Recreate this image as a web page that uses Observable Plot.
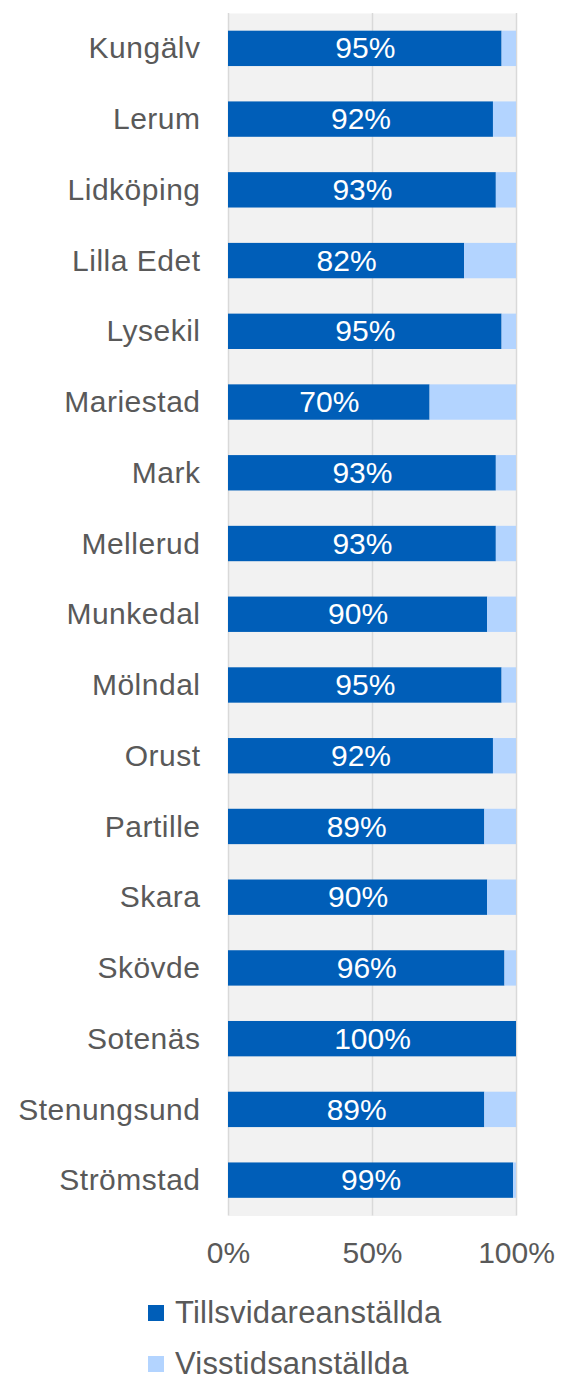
<!DOCTYPE html>
<html>
<head>
<meta charset="utf-8">
<script src="https://cdn.jsdelivr.net/npm/d3@7"></script>
<script src="https://cdn.jsdelivr.net/npm/@observablehq/plot@0.6"></script>
<style>
  body { margin: 0; background: #fff; font-family: "Liberation Sans", Arial, sans-serif; }
  svg { display: block; }
  #chart g[aria-label="y-axis tick label"] text { letter-spacing: 0.5px; }
  .legend { padding-top: 7px; padding-left: 148px; color: #595959; font-size: 31px; letter-spacing: 0.2px; }
  .legend .item { height: 51px; display: flex; align-items: center; }
  .legend .sw { width: 16px; height: 16px; margin-right: 11px; display: inline-block; }
</style>
</head>
<body>
<div id="chart"></div>
<div class="legend" id="legend"></div>
<script>
const categories = ["Kungälv","Lerum","Lidköping","Lilla Edet","Lysekil","Mariestad","Mark","Mellerud","Munkedal","Mölndal","Orust","Partille","Skara","Skövde","Sotenäs","Stenungsund","Strömstad"];
const tillsvidare = [95,92,93,82,95,70,93,93,90,95,92,89,90,96,100,89,99];
const visstid = tillsvidare.map(v => 100 - v);
const seriesNames = ["Tillsvidareanställda","Visstidsanställda"];
const seriesColors = ["#005EB8","#B3D4FF"];
const xTicks = [0,50,100];

const data = [];
categories.forEach((c,i) => {
  data.push({name: c, type: seriesNames[0], value: tillsvidare[i]});
  data.push({name: c, type: seriesNames[1], value: visstid[i]});
});
const labels = categories.map((c,i) => ({name: c, value: tillsvidare[i]}));

const plot = Plot.plot({
  width: 573,
  height: 1280,
  marginLeft: 228,
  marginRight: 57,
  marginTop: 13,
  marginBottom: 64.5,
  style: {fontSize: "30px", fontFamily: "'Liberation Sans', Arial, sans-serif", color: "#595959", background: "#fff"},
  x: {domain: [0,100]},
  y: {domain: categories, paddingInner: 0.5, paddingOuter: 0.25, round: false},
  color: {domain: seriesNames, range: seriesColors},
  marks: [
    Plot.frame({fill: "#f2f2f2", stroke: null}),
    Plot.ruleX(xTicks, {stroke: "#d9d9d9", strokeWidth: 1.5}),
    Plot.barX(data, Plot.stackX({x: "value", y: "name", fill: "type", order: seriesNames})),
    Plot.text(labels, {x: d => d.value / 2, y: "name", text: d => d.value + "%", fill: "white", fontSize: 30}),
    Plot.axisY({tickSize: 0, tickPadding: 28, label: null, fontSize: 30}),
    Plot.axisX({ticks: xTicks, tickFormat: d => d + "%", tickSize: 0, tickPadding: 26, label: null, fontSize: 30})
  ]
});
document.getElementById("chart").appendChild(plot);

const leg = document.getElementById("legend");
seriesNames.forEach((n,i) => {
  const it = document.createElement("div");
  it.className = "item";
  const sw = document.createElement("span");
  sw.className = "sw";
  sw.style.background = seriesColors[i];
  it.appendChild(sw);
  it.appendChild(document.createTextNode(n));
  leg.appendChild(it);
});
</script>
</body>
</html>
